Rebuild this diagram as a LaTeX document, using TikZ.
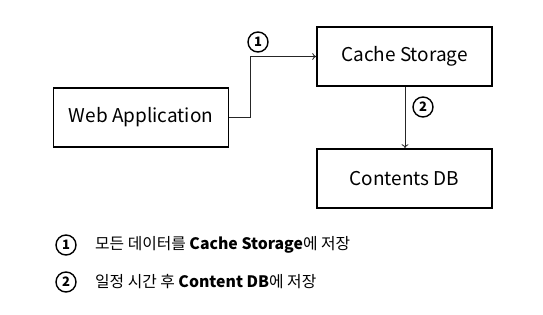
\documentclass[tikz,border=0pt]{standalone}
\usepackage{fontspec}
\setmainfont{Noto Sans CJK KR}
\usetikzlibrary{arrows.meta}
\begin{document}
\begin{tikzpicture}[x=1pt,y=-1pt,
  box/.style={draw, line width=1.6pt, minimum width=175pt, minimum height=59pt, inner sep=0pt, font=\fontsize{19}{22}\selectfont},
  num/.style={draw, circle, line width=1.4pt, minimum size=20pt, inner sep=0pt, font=\fontsize{13}{14}\selectfont\bfseries},
  conn/.style={line width=0.8pt, draw=black!85, -{To[length=4pt,width=7pt]}},
  legend/.style={anchor=west, inner sep=0pt, font=\fontsize{15.8}{18}\selectfont}]
\useasboundingbox (0,0) rectangle (543,315);
\node[box] (web) at (141,117.5) {Web Application};
\node[box] (cache) at (404.5,56.5) {Cache Storage};
\node[box] (db) at (404.5,178.5) {Contents DB};
\coordinate (bend) at (250,117.5);
\draw[conn] (web.east) -- (bend) |- (cache.west);
\draw[conn] (cache.south -| 405,0) -- (db.north -| 405,0);
\node[num] (n1) at (258,42) {1};
\node[num] (n2) at (423,107) {2};
\node[num] (l1) at (66,245) {1};
\node[num] (l2) at (66,282) {2};
\node[legend] (t1) at (95,245) {모든 데이터를 \textbf{Cache Storage}에 저장};
\node[legend] (t2) at (95,282) {일정 시간 후 \textbf{Content DB}에 저장};
\end{tikzpicture}
\end{document}
